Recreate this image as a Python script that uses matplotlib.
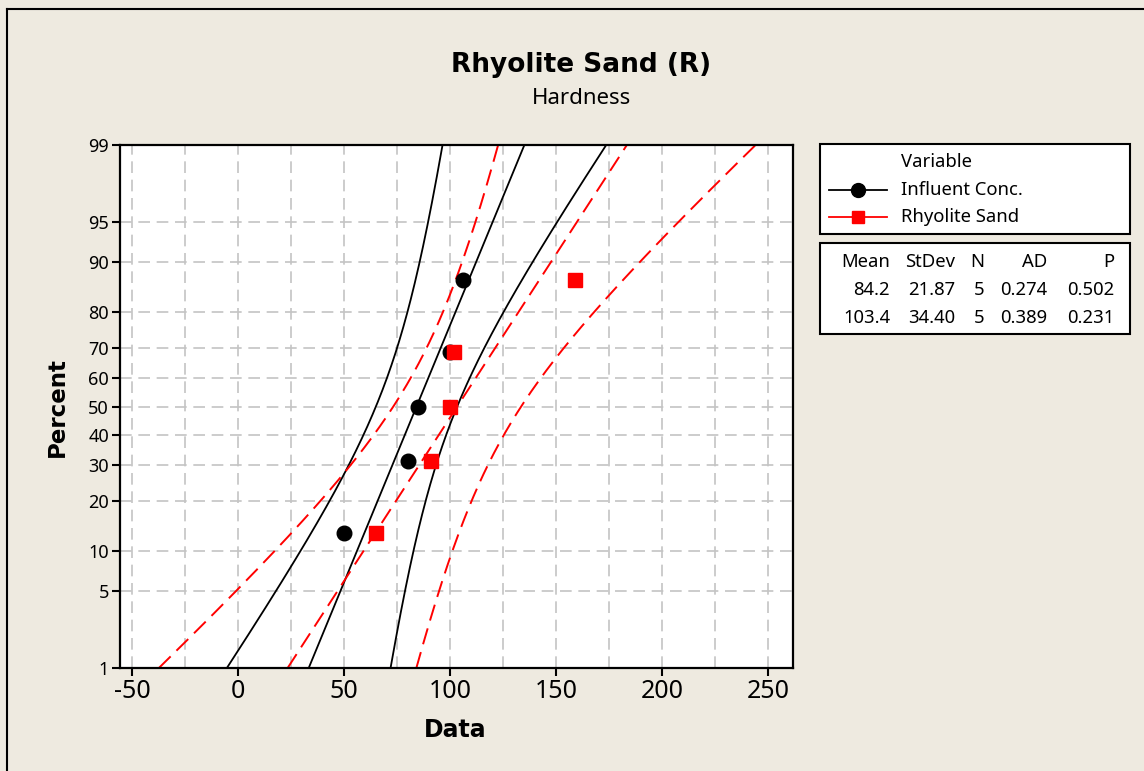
import numpy as np
import matplotlib
matplotlib.use("Agg")
import matplotlib.pyplot as plt
from matplotlib.lines import Line2D
from matplotlib.patches import Rectangle
from statistics import NormalDist

plt.rcParams['font.family'] = ['Noto Sans', 'DejaVu Sans']

# ---------------- data ----------------
series_names = ["Influent Conc.", "Rhyolite Sand"]
influent = [50, 80, 85, 100, 106]
rhyolite = [65, 91, 100, 102, 159]
stats_header = ["Mean", "StDev", "N", "AD", "P"]
stats_rows = [["84.2", "21.87", "5", "0.274", "0.502"],
              ["103.4", "34.40", "5", "0.389", "0.231"]]
pct_ticks = [1, 5, 10, 20, 30, 40, 50, 60, 70, 80, 90, 95, 99]
x_ticks = [-50, 0, 50, 100, 150, 200, 250]
x_minor = [-25, 25, 75, 125, 175, 225]
title = "Rhyolite Sand (R)"
subtitle = "Hardness"

W, H = 1144, 771
BG = "#EEEAE0"
nd = NormalDist()
BOLD = dict(family="DejaVu Sans", fontweight="bold")

def z(p):
    return nd.inv_cdf(p / 100.0)

fig = plt.figure(figsize=(W / 100, H / 100), dpi=100, facecolor=BG)

def fx(px):
    return px / W

def fy(py):
    return 1 - py / H

# outer frame (left & top visible)
fig.add_artist(Line2D([fx(6.5), fx(6.5)], [fy(8.5), fy(771)], color="black", lw=1.5, transform=fig.transFigure))
fig.add_artist(Line2D([fx(6.5), fx(1144)], [fy(8.5), fy(8.5)], color="black", lw=1.5, transform=fig.transFigure))

L, R, T, B = 120, 793, 145, 668
ax = fig.add_axes([fx(L), fy(B), (R - L) / W, (B - T) / H])
ax.set_facecolor("white")

zlo, zhi = z(1), z(99)
ax.set_ylim(zlo, zhi)
ax.set_xlim(-55.7, 261.8)

# grid
gkw = dict(color="#C4C4C4", lw=1.2, dashes=(7, 4), zorder=0)
for xv in x_ticks + x_minor:
    ax.axvline(xv, **gkw)
for p in pct_ticks[1:-1]:
    ax.axhline(z(p), **gkw)

zz = np.linspace(zlo, zhi, 300)
k_sig = 0.113

def draw_series(data, color, marker, ms, dashed):
    d = np.array(data, dtype=float)
    n = len(d)
    m = d.mean()
    s = d.std(ddof=1)
    fit = m + zz * s
    hw = 1.96 * s * np.sqrt(1.0 / n + k_sig * zz ** 2)
    lkw = dict(color=color, lw=1.4 if dashed else 1.3, zorder=2)
    if dashed:
        lkw["dashes"] = (8.5, 4.2)
    for curve in (fit, fit - hw, fit + hw):
        ax.plot(curve, zz, **lkw)
    ranks = (np.arange(1, n + 1) - 0.3) / (n + 0.4) * 100
    ax.plot(np.sort(d), [z(r) for r in ranks], linestyle="none", marker=marker,
            ms=ms, color=color, mec=color, zorder=3)

draw_series(influent, "black", "o", 10.5, False)
draw_series(rhyolite, "#FF0000", "s", 9.5, True)

ax.set_yticks([z(p) for p in pct_ticks])
ax.set_yticklabels([str(p) for p in pct_ticks], fontsize=13)
ax.set_xticks(x_ticks)
ax.set_xticklabels([str(v) for v in x_ticks], fontsize=18)
ax.tick_params(axis="both", direction="out", length=6, width=1.5, color="black")
ax.tick_params(axis="y", pad=2)
ax.tick_params(axis="x", pad=2)
for sp in ax.spines.values():
    sp.set_linewidth(1.6)

fig.text(fx(57), fy(407), "Percent", rotation=90, ha="center", va="center",
         fontsize=16.5, **BOLD)
fig.text(fx(455), fy(730), "Data", ha="center", va="center",
         fontsize=17, **BOLD)
fig.text(fx(581), fy(65), title, ha="center", va="center", fontsize=19, **BOLD)
fig.text(fx(581), fy(99), subtitle, ha="center", va="center", fontsize=16)

# legend box 1
def box(x0, y0, x1, y1):
    fig.add_artist(Rectangle((fx(x0), fy(y1)), fx(x1) - fx(x0), fy(y0) - fy(y1),
                             transform=fig.transFigure, facecolor="white",
                             edgecolor="black", lw=1.5))

FS = 13.3
box(820, 144, 1130, 234)
fig.text(fx(901), fy(162), "Variable", ha="left", va="center", fontsize=FS)
leg_y = [190, 217]
leg_cols = ["black", "#FF0000"]
leg_mk = ["o", "s"]
leg_ms = [10, 9]
for name, yy, c, mk, ms in zip(series_names, leg_y, leg_cols, leg_mk, leg_ms):
    fig.add_artist(Line2D([fx(829), fx(887)], [fy(yy), fy(yy)], color=c, lw=1.3,
                          transform=fig.transFigure))
    fig.add_artist(Line2D([fx(858)], [fy(yy)], color=c, marker=mk, ms=ms, mec=c,
                          linestyle="none", transform=fig.transFigure))
    fig.text(fx(901), fy(yy), name, ha="left", va="center", fontsize=FS)

# legend box 2 (statistics)
box(820, 243, 1130, 334)
col_right = [890, 955, 984, 1047, 1114]
row_y = [262, 290, 318]
for cx, h in zip(col_right, stats_header):
    fig.text(fx(cx), fy(row_y[0]), h, ha="right", va="center", fontsize=FS)
for ry, row in zip(row_y[1:], stats_rows):
    for cx, v in zip(col_right, row):
        fig.text(fx(cx), fy(ry), v, ha="right", va="center", fontsize=FS)

fig.savefig("out.png", dpi=100, facecolor=BG)
